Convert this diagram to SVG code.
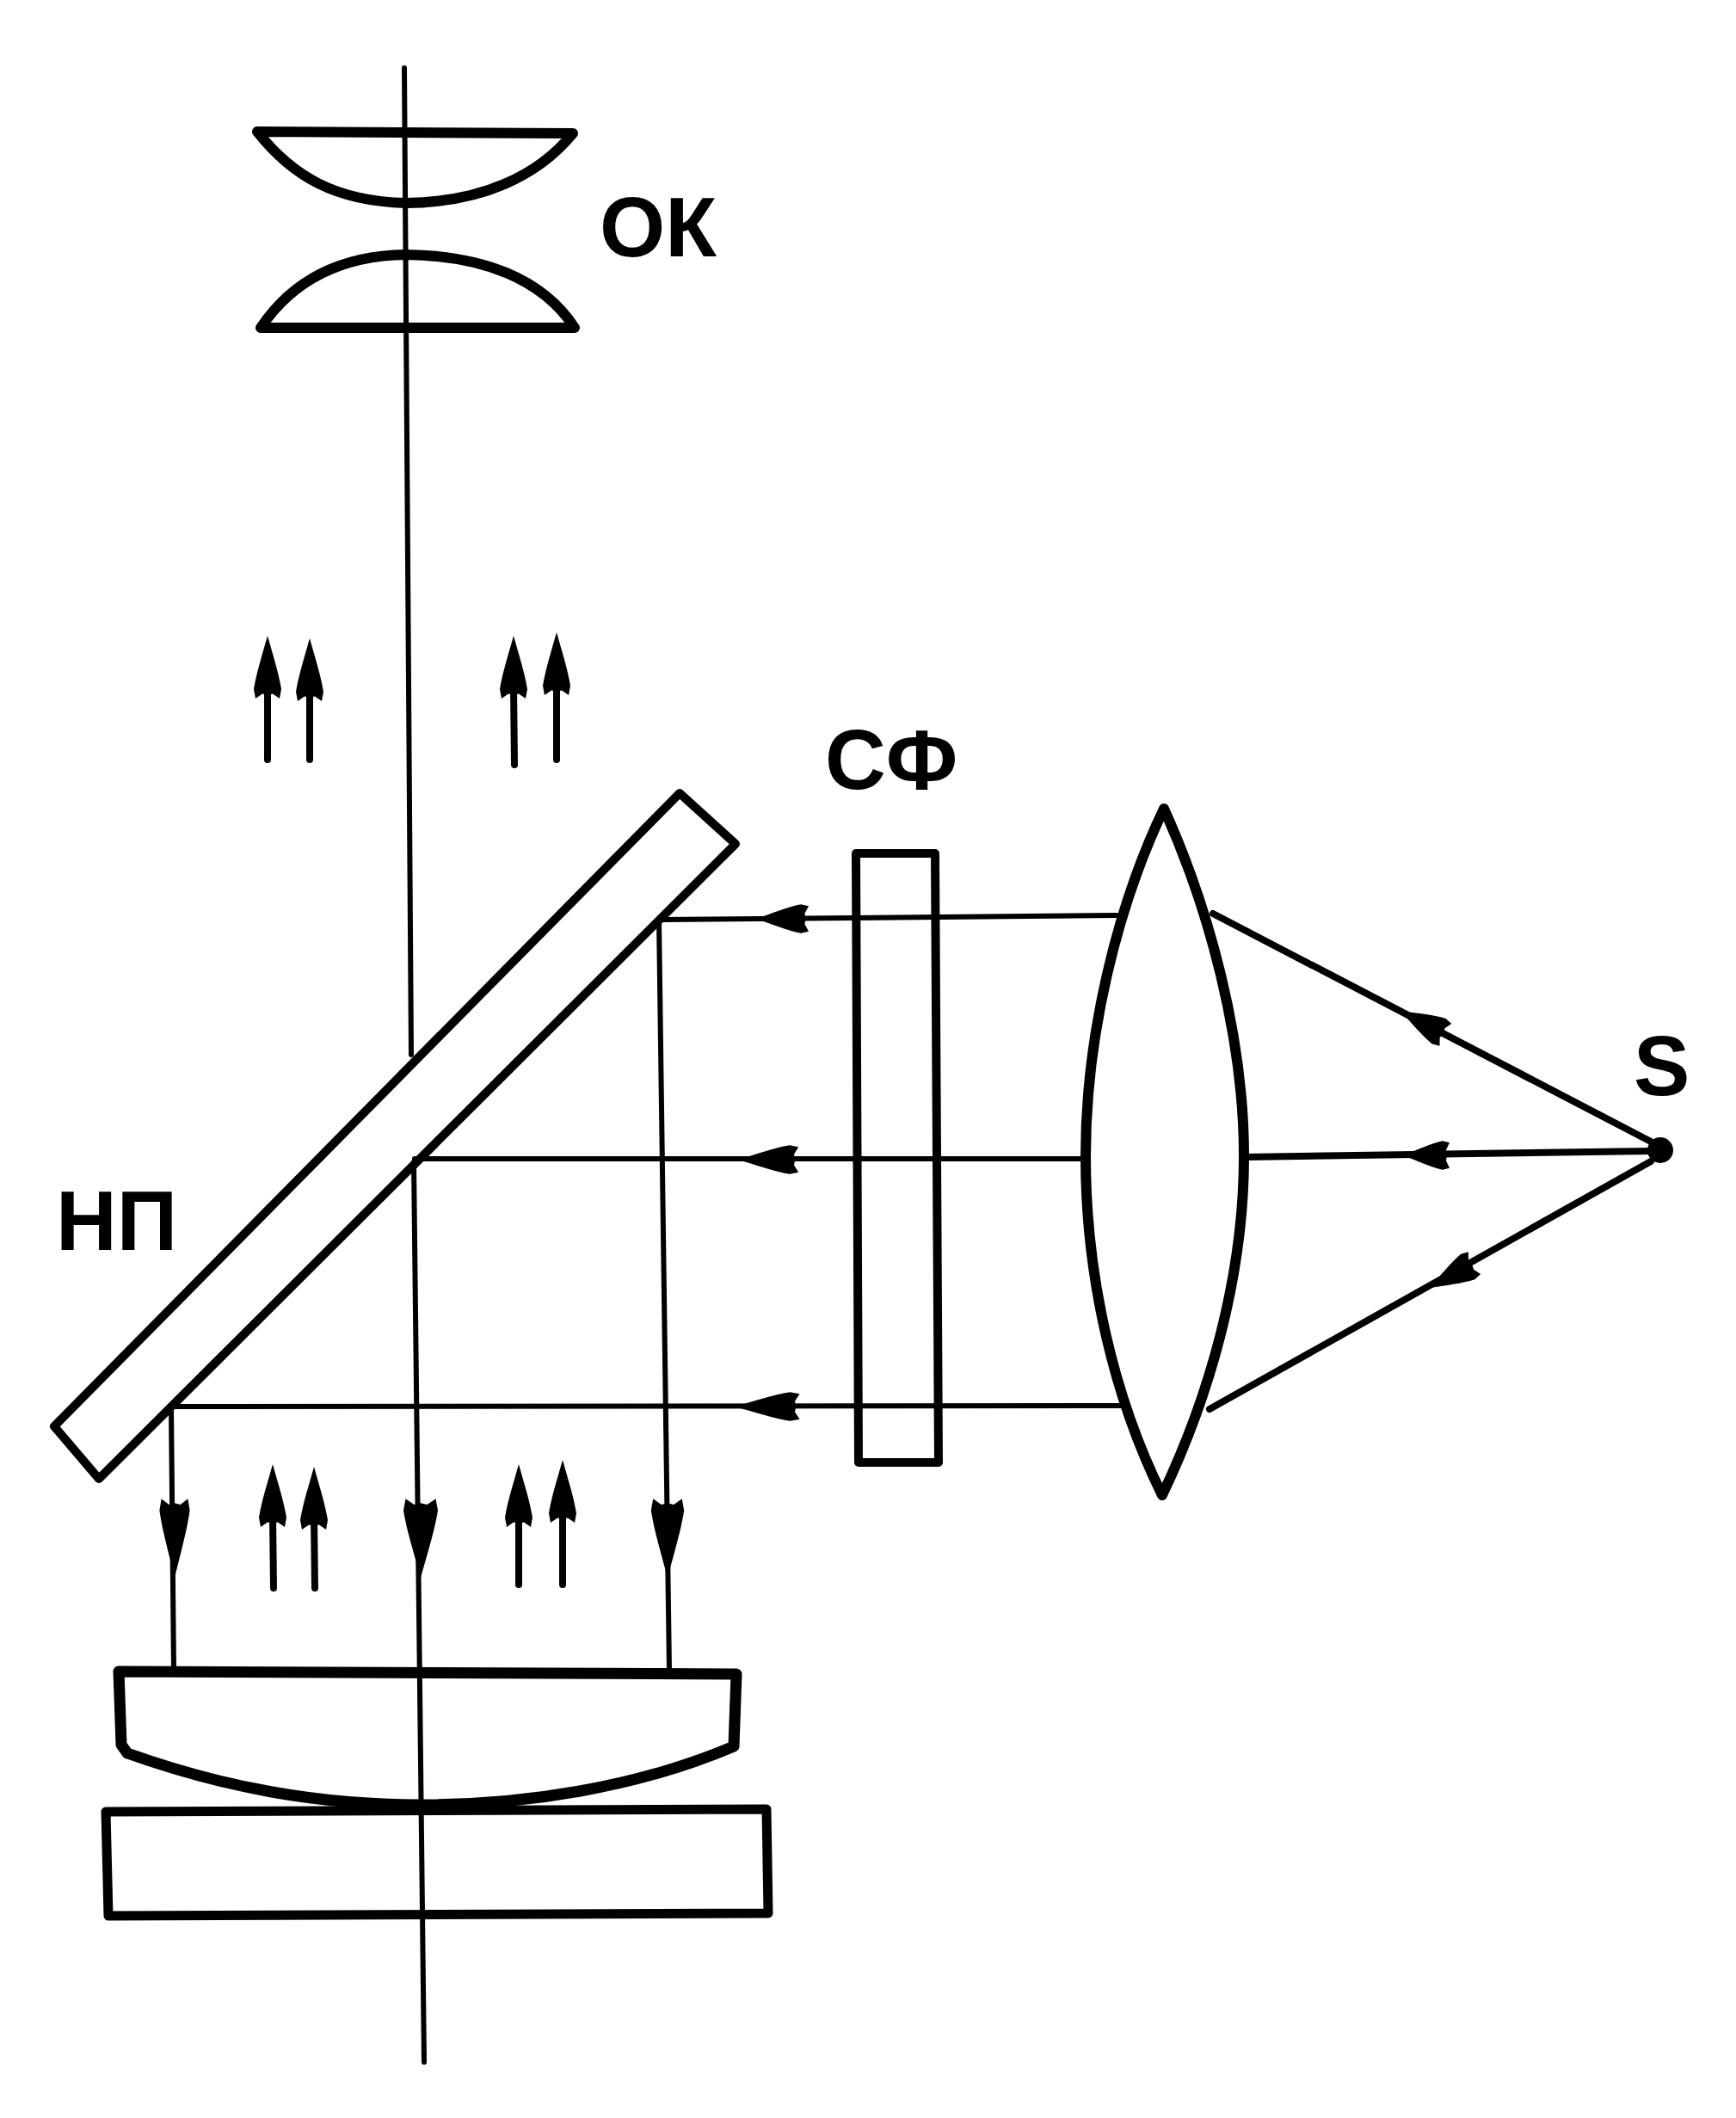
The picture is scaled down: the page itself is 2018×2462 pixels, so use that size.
<svg xmlns="http://www.w3.org/2000/svg" width="2018" height="2462" viewBox="0 0 2018 2462">
<style>
.o{fill:none;stroke:#000;stroke-linejoin:round;stroke-linecap:round}
.n{stroke-width:12}
.r{fill:none;stroke:#000;stroke-width:6;stroke-linecap:round}
.a{fill:none;stroke:#000;stroke-width:8;stroke-linecap:round}
.t{font-family:"Liberation Sans",Arial,sans-serif;font-weight:700;font-size:98px;fill:#000}
</style>
<defs>
<path id="ah" d="M0 0C6 16 13 32 16 46L14 54L6 50L0 51L-6 50L-14 54L-16 46C-13 32-6 16 0 0Z" fill="#000"/>
</defs>
<rect width="2018" height="2462" fill="#fff"/>
<g id="connectors">
<path class="r" d="M470 79L478 1226M481 1351L493 2397"/>
<path class="r" d="M1298 1064L770 1069M1262 1347L482 1347M1304 1634L205 1635M766 1069L778 1942M199 1637L202 1942"/>
<path class="r" style="stroke-width:8" d="M1410 1062L1919 1327M1448 1345L1919 1338M1406 1638L1919 1350"/>
<g id="heads">
<use href="#ah" transform="translate(879,1068) rotate(-90) scale(1.05,1.13)"/>
<use href="#ah" transform="translate(858,1348) rotate(-90) scale(1.05,1.3)"/>
<use href="#ah" transform="translate(854,1635) rotate(-90) scale(1.05,1.4)"/>
<use href="#ah" transform="translate(1628,1175) rotate(-62) scale(1.05,1.1)"/>
<use href="#ah" transform="translate(1631,1343) rotate(-90) scale(1.05,1)"/>
<use href="#ah" transform="translate(1662,1497) rotate(-119) scale(1.05,1.1)"/>
<use href="#ah" transform="translate(203,1834) rotate(180) scale(1.1,1.7)"/>
<use href="#ah" transform="translate(489,1834) rotate(180) scale(1.25,1.7)"/>
<use href="#ah" transform="translate(776,1834) rotate(180) scale(1.2,1.7)"/>
</g>
<g id="up-arrows">
<path class="a" d="M311 800L311 883M360 800L360 883M597 800L598 889M647 800L647 883M317 1762L318 1846M365 1762L366 1846M603 1762L603 1842M654 1762L654 1842"/>
<use href="#ah" transform="translate(311,739) scale(1,1.35)"/>
<use href="#ah" transform="translate(360,742) scale(1,1.35)"/>
<use href="#ah" transform="translate(597,739) scale(1,1.35)"/>
<use href="#ah" transform="translate(647,735) scale(1,1.35)"/>
<use href="#ah" transform="translate(317,1702) scale(1,1.35)"/>
<use href="#ah" transform="translate(365,1705) scale(1,1.35)"/>
<use href="#ah" transform="translate(603,1702) scale(1,1.35)"/>
<use href="#ah" transform="translate(654,1697) scale(1,1.35)"/>
</g>
</g>
<g id="eyepiece-upper"><path class="o n" d="M299 153L666 155C625 205 560 235 472 236C390 234 340 205 299 153Z"/></g>
<g id="eyepiece-lower"><path class="o n" d="M303 381L668 381C630 323 560 297 472 296C395 297 340 326 303 381Z"/></g>
<g id="label-ok"><text class="t" x="697" y="298">ОК</text></g>
<g id="label-sf"><text class="t" x="959" y="917">СФ</text></g>
<g id="label-np"><text class="t" x="65" y="1453">НП</text></g>
<g id="label-s"><text class="t" x="1899" y="1273">S</text></g>
<g id="plate"><path class="o" style="stroke-width:10" d="M790 922L855 981L115 1719L63 1658Z"/></g>
<g id="filter"><path class="o" style="stroke-width:10" d="M995 992L1087 992L1091 1700L998 1700Z"/></g>
<g id="condenser"><path class="o n" d="M1353 940C1405 1055 1446 1205 1446 1344C1446 1485 1405 1625 1351 1738C1295 1625 1262 1485 1262 1344C1262 1205 1298 1055 1353 940Z"/></g>
<g id="source"><circle cx="1930" cy="1337" r="15" fill="#000"/></g>
<g id="lower-lens"><path class="o" style="stroke-width:13" d="M138 1943L856 1946L853 2030C740 2078 610 2098 490 2098C370 2098 260 2078 148 2038L141 2028Z"/></g>
<g id="base"><path class="o" style="stroke-width:11" d="M123 2106L891 2103L893 2224L126 2227Z"/></g>
</svg>
